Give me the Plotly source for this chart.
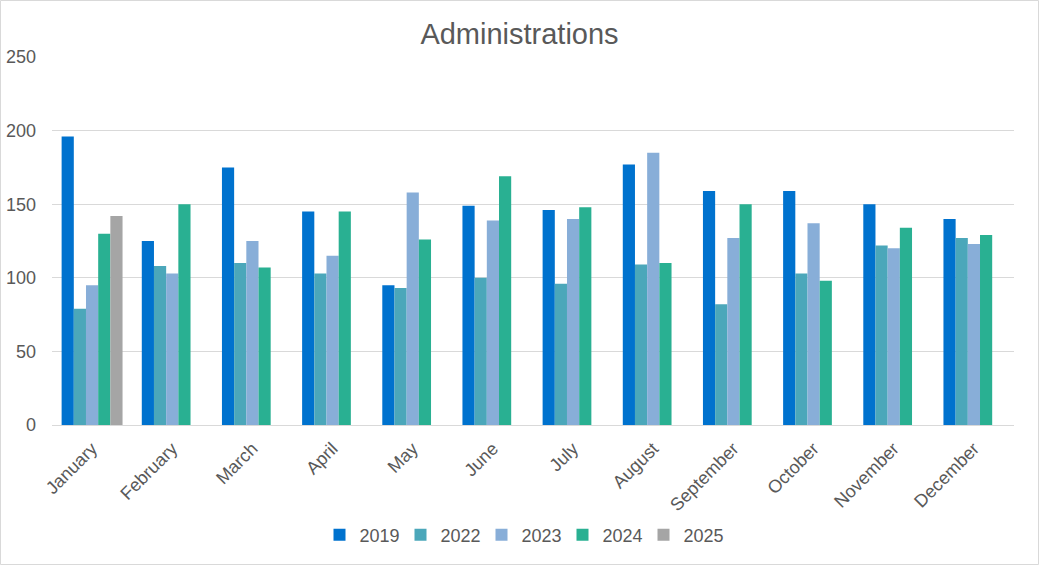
import plotly.graph_objects as go

months = ["January", "February", "March", "April", "May", "June", "July",
          "August", "September", "October", "November", "December"]
s2019 = [196, 125, 175, 145, 95, 149, 146, 177, 159, 159, 150, 140]
s2022 = [79, 108, 110, 103, 93, 100, 96, 109, 82, 103, 122, 127]
s2023 = [95, 103, 125, 115, 158, 139, 140, 185, 127, 137, 120, 123]
s2024 = [130, 150, 107, 145, 126, 169, 148, 110, 150, 98, 134, 129]
s2025 = [142, None, None, None, None, None, None, None, None, None, None, None]

series = [("2019", s2019, "#0072CE"), ("2022", s2022, "#4BA7BA"),
          ("2023", s2023, "#88AED8"), ("2024", s2024, "#29B092"),
          ("2025", s2025, "#A5A5A5")]

W, H = 1039, 565
ml, mr, mt, mb = 52, 25, 57, 140
pw, ph = W - ml - mr, H - mt - mb

fig = go.Figure()
for name, vals, col in series:
    fig.add_trace(go.Bar(x=months, y=vals, name=name, marker_color=col,
                         marker_line_width=0))

fig.update_layout(
    width=W, height=H,
    margin=dict(l=ml, r=mr, t=mt, b=mb, pad=0, autoexpand=False),
    paper_bgcolor="white", plot_bgcolor="white",
    barmode="group", bargap=0.24, bargroupgap=0,
    font=dict(family="Liberation Sans, Arial", color="#595959", size=18),
    title=dict(text="Administrations", x=0.5, xanchor="center",
               y=1 - 34 / H, yanchor="middle",
               font=dict(size=29, color="#595959")),
    legend=dict(orientation="h", x=(522 - ml) / pw, xanchor="center",
                y=-(535 - (mt + ph)) / ph, yanchor="middle",
                font=dict(size=18, color="#595959"),
                itemwidth=30, entrywidth=36, traceorder="normal"),
    xaxis=dict(tickangle=-45, showgrid=False, showline=True,
               linecolor="#D9D9D9", linewidth=1, ticks="",
               ticklabelstandoff=5, automargin=False,
               tickfont=dict(size=18, color="#595959")),
    yaxis=dict(range=[0, 250], dtick=50, showgrid=True, gridcolor="#D9D9D9",
               gridwidth=1, zeroline=False, ticks="", ticklabelstandoff=15,
               automargin=False,
               tickfont=dict(size=18, color="#595959")),
    shapes=[dict(type="rect", xref="paper", yref="paper",
                 x0=-ml / pw + 0.5 / pw, x1=1 + (mr - 0.5) / pw,
                 y0=-(mb - 0.5) / ph, y1=1 + (mt - 0.5) / ph,
                 line=dict(color="#D9D9D9", width=1), layer="below")],
)

fig.write_html("out.html", config={"displayModeBar": False},
               post_script="document.body.style.margin='0';")
